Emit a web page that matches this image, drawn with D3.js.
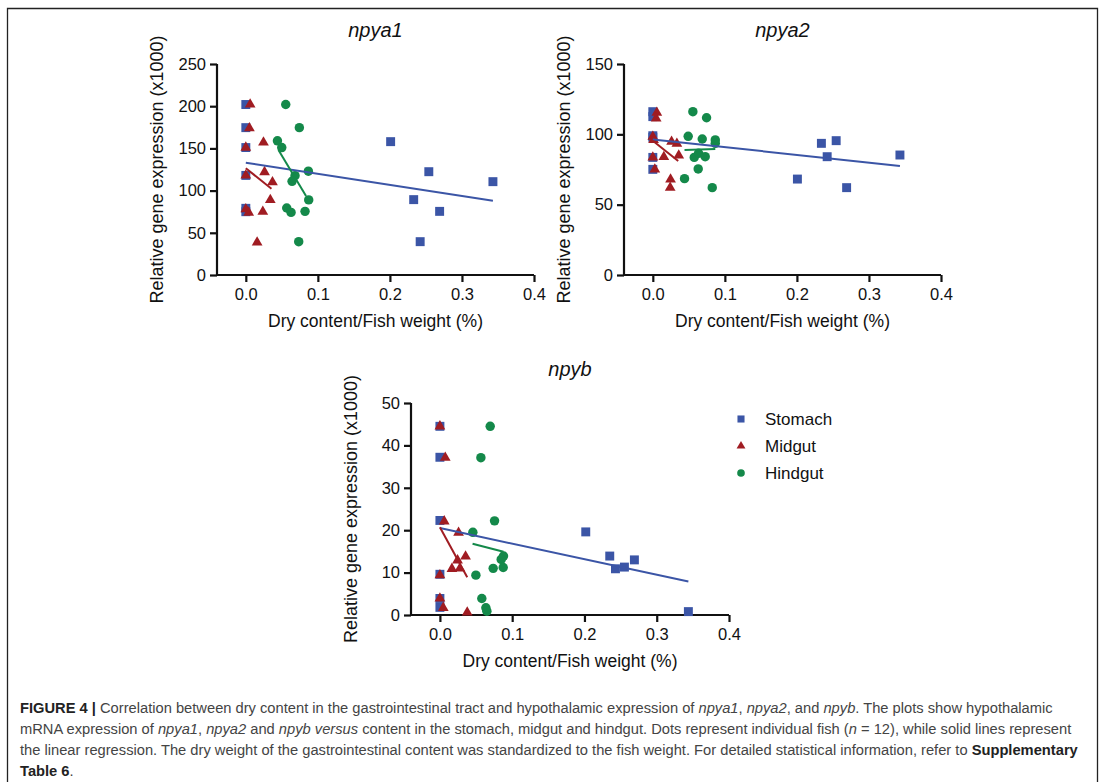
<!DOCTYPE html>
<html>
<head>
<meta charset="utf-8">
<script src="https://cdn.jsdelivr.net/npm/d3@7/dist/d3.min.js"></script>
<style>
  html, body { margin: 0; padding: 0; background: #fff; }
  svg { display: block; }
  text { font-family: "Liberation Sans", Arial, sans-serif; }
</style>
</head>
<body>
<svg id="fig" width="1100" height="782"></svg>
<script>
// Shared axis settings
const xTicks = [0, 0.1, 0.2, 0.3, 0.4];
const groups = ["Stomach", "Midgut", "Hindgut"];

// npya1 — [dry content %, expression x1000]
const npya1Stomach = [[0,202],[0,174.6],[0,151],[0,118],[0,79],[0,75],[0.201,158],[0.254,122.4],[0.343,110.6],[0.233,89.3],[0.269,75.4],[0.242,39.5]];
const npya1Midgut = [[0.006,202],[0.005,174],[0,151],[0.0245,157],[0,118],[0.026,122],[0.037,110],[0.034,89],[0,78],[0.004,74],[0.0236,75],[0.0157,38.7]];
const npya1Hindgut = [[0.0554,202],[0.0743,174.6],[0.0439,159],[0.0499,151],[0.0868,123],[0.0683,117.7],[0.0642,111],[0.0873,89],[0.0568,79.4],[0.0628,74.2],[0.0822,75.4],[0.0734,39.5]];
const npya1Fits = [[[0,133],[0.343,88]], [[0,126.4],[0.0356,102.3]], [[0.0453,148],[0.0836,93.6]]];
const npya1YTicks = [0, 50, 100, 150, 200, 250];

// npya2
const npya2Stomach = [[0,116.1],[0,112.6],[0,97.9],[0,99],[0,83.6],[0,75.1],[0.234,93.6],[0.2545,95.5],[0.242,84.1],[0.343,85.3],[0.2007,68.2],[0.269,62.1]];
const npya2Midgut = [[0.0056,115.4],[0.0046,111.4],[0,98.3],[0.001,96],[0,83.6],[0.0028,75.1],[0.026,94.8],[0.0334,93.4],[0.0153,83.9],[0.036,85],[0.0246,67.9],[0.0241,62.1]];
const npya2Hindgut = [[0.0556,116.1],[0.0746,111.8],[0.0491,98.6],[0.0686,96.7],[0.0867,96],[0.0867,93.6],[0.0575,83.6],[0.0635,86.5],[0.0727,84.1],[0.063,75.4],[0.044,68.5],[0.0825,62.1]];
const npya2Fits = [[[0,96.4],[0.343,77.5]], [[0,95.5],[0.0352,81]], [[0.044,88.9],[0.0867,89.6]]];
const npya2YTicks = [0, 50, 100, 150];

// npyb
const npybStomach = [[0,44.5],[0,37.2],[0,22.3],[0,9.6],[0,3.9],[0,1.8],[0.2018,19.6],[0.235,13.9],[0.2429,10.9],[0.2553,11.3],[0.2691,13.0],[0.3438,0.8]];
const npybMidgut = [[0,44.5],[0.0074,37.1],[0.006,22.1],[0.0258,19.4],[0,9.4],[0,3.9],[0.0046,1.7],[0.0378,0.6],[0.0166,10.9],[0.0244,12.9],[0.0276,11.0],[0.0355,13.8]];
const npybHindgut = [[0.0696,44.5],[0.0567,37.1],[0.0756,22.2],[0.0456,19.5],[0.088,13.9],[0.0848,13.1],[0.0737,11.0],[0.0876,11.2],[0.0498,9.4],[0.058,3.9],[0.0636,1.7],[0.065,0.9]];
const npybFits = [[[0,20.5],[0.3438,7.9]], [[0,20.7],[0.0378,8.9]], [[0.0452,16.8],[0.088,14.9]]];
const npybYTicks = [0, 10, 20, 30, 40, 50];

const colors = ["#3b55a6", "#a01c22", "#14894a"];
const symbols = [d3.symbolSquare, d3.symbolTriangle, d3.symbolCircle];
const symbolSizes = [80, 50, 70];
const legendSizes = [50, 34, 46];

const svg = d3.select("#fig");

// Figure frame (open at the bottom)
svg.append("path")
  .attr("d", "M7.5,790 L7.5,8.5 L1097.5,8.5 L1097.5,790")
  .attr("fill", "none").attr("stroke", "#222").attr("stroke-width", 1.3);

function drawPanel(cfg) {
  const { left, right, top, bottom } = cfg.box;
  const x = d3.scaleLinear().domain([-0.04, 0.4]).range([left, right]);
  const y = d3.scaleLinear().domain([0, cfg.yMax]).range([bottom, top]);
  const g = svg.append("g");

  const xAxis = g.append("g").attr("transform", `translate(0,${bottom})`)
    .call(d3.axisBottom(x).tickValues(xTicks).tickFormat(d3.format(".1f")).tickSizeOuter(0).tickSize(7).tickPadding(6));
  const yAxis = g.append("g").attr("transform", `translate(${left},0)`)
    .call(d3.axisLeft(y).tickValues(cfg.yTicks).tickSizeOuter(0).tickSize(7).tickPadding(4));
  [xAxis, yAxis].forEach(a => {
    a.select(".domain").attr("stroke", "#111").attr("stroke-width", 2.2);
    a.selectAll(".tick line").attr("stroke", "#111").attr("stroke-width", 2.2);
    a.selectAll(".tick text").attr("font-size", 16.5).attr("fill", "#111")
      .style("font-family", "'Liberation Sans', Arial, sans-serif");
  });
  // extend x domain line to join the y axis
  xAxis.select(".domain").attr("d", `M${left},0H${right}`);
  yAxis.select(".domain").attr("d", `M0,${bottom + 1}V${top}`);

  // markers
  cfg.series.forEach((pts, i) => {
    g.append("g").selectAll("path").data(pts).join("path")
      .attr("d", d3.symbol().type(symbols[i]).size(symbolSizes[i]))
      .attr("transform", d => `translate(${x(d[0])},${y(d[1])})`)
      .attr("fill", colors[i]);
  });

  // regression lines
  const line = d3.line().x(d => x(d[0])).y(d => y(d[1]));
  cfg.fits.forEach((f, i) => {
    g.append("path").attr("d", line(f)).attr("fill", "none")
      .attr("stroke", colors[i]).attr("stroke-width", 2);
  });

  // title
  g.append("text").attr("x", (left + right) / 2).attr("y", top - 27)
    .attr("text-anchor", "middle").attr("font-size", 20).attr("font-style", "italic")
    .attr("fill", "#111").text(cfg.title);
  // axis titles
  g.append("text").attr("x", (left + right) / 2).attr("y", bottom + 52)
    .attr("text-anchor", "middle").attr("font-size", 17.5).attr("fill", "#111")
    .text("Dry content/Fish weight (%)");
  g.append("text")
    .attr("transform", `translate(${left - 54},${(top + bottom) / 2}) rotate(-90)`)
    .attr("text-anchor", "middle").attr("font-size", 18).attr("fill", "#111")
    .text("Relative gene expression (x1000)");
}

drawPanel({ title: "npya1", box: { left: 217, right: 534, top: 64, bottom: 275 }, yMax: 250, yTicks: npya1YTicks,
  series: [npya1Stomach, npya1Midgut, npya1Hindgut], fits: npya1Fits });
drawPanel({ title: "npya2", box: { left: 624, right: 941, top: 64, bottom: 275 }, yMax: 150, yTicks: npya2YTicks,
  series: [npya2Stomach, npya2Midgut, npya2Hindgut], fits: npya2Fits });
drawPanel({ title: "npyb", box: { left: 411, right: 729, top: 403, bottom: 615 }, yMax: 50, yTicks: npybYTicks,
  series: [npybStomach, npybMidgut, npybHindgut], fits: npybFits });

// legend
const legend = svg.append("g");
groups.forEach((name, i) => {
  const yy = 419 + i * 27;
  legend.append("path")
    .attr("d", d3.symbol().type(symbols[i]).size(legendSizes[i])())
    .attr("transform", `translate(741,${yy})`).attr("fill", colors[i]);
  legend.append("text").attr("x", 765).attr("y", yy + 6).attr("font-size", 17)
    .attr("fill", "#111").text(name);
});

// caption
const capLines = [
  [["b", "FIGURE 4 | "], ["", "Correlation between dry content in the gastrointestinal tract and hypothalamic expression of "], ["i", "npya1"], ["", ", "], ["i", "npya2"], ["", ", and "], ["i", "npyb"], ["", ". The plots show hypothalamic"]],
  [["", "mRNA expression of "], ["i", "npya1"], ["", ", "], ["i", "npya2"], ["", " and "], ["i", "npyb versus"], ["", " content in the stomach, midgut and hindgut. Dots represent individual fish ("], ["i", "n"], ["", " = 12), while solid lines represent"]],
  [["", "the linear regression. The dry weight of the gastrointestinal content was standardized to the fish weight. For detailed statistical information, refer to "], ["b", "Supplementary"]],
  [["b", "Table 6"], ["", "."]]
];
const cap = svg.append("g");
capLines.forEach((parts, li) => {
  const t = cap.append("text").attr("x", 20).attr("y", 712.5 + li * 21)
    .attr("font-size", 14.7).attr("fill", "#444");
  parts.forEach(([st, txt]) => {
    const s = t.append("tspan").text(txt);
    if (st === "b") s.attr("font-weight", "bold").attr("fill", "#222");
    if (st === "i") s.attr("font-style", "italic");
  });
});
</script>
</body>
</html>
